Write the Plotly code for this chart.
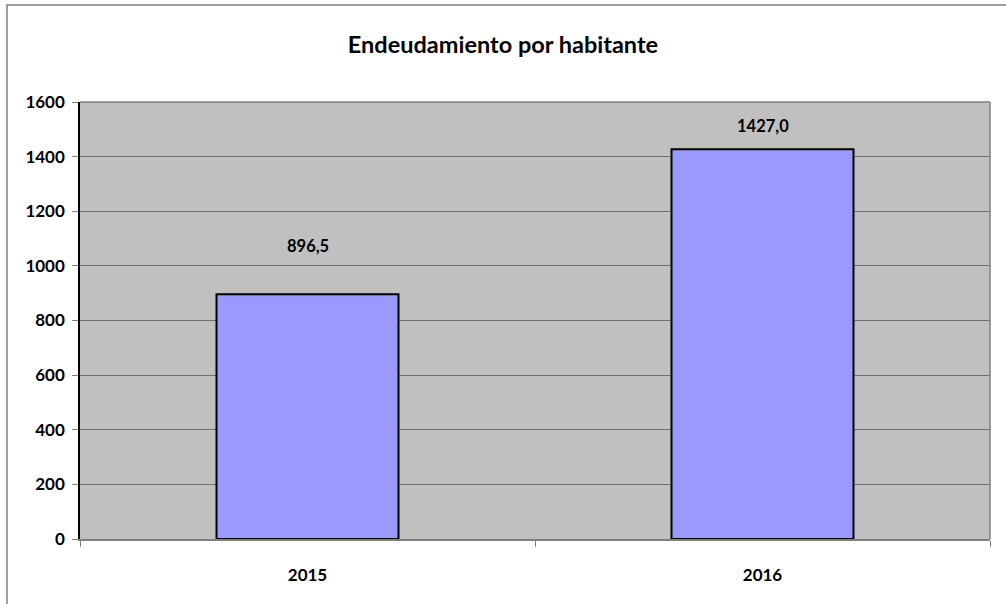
import plotly.graph_objects as go

years = ["2015", "2016"]
values = [896.5, 1427.0]
labels = ["896,5", "1427,0"]
label_shift = [48, 23]
y_ticks = [0, 200, 400, 600, 800, 1000, 1200, 1400, 1600]

FONT = "Lato"

fig = go.Figure()
fig.add_trace(go.Bar(
    x=years, y=values, width=0.4,
    marker=dict(color="#9999FF", line=dict(color="black", width=2)),
    hoverinfo="skip",
))

for i, (v, lab, sh) in enumerate(zip(values, labels, label_shift)):
    fig.add_annotation(x=i, y=v, xref="x", yref="y", text=f"<b>{lab}</b>", showarrow=False,
                       yshift=sh, font=dict(family=FONT, size=16.5, color="black"))

L, R, T, B = 80, 990, 102, 539
W, H = 1006, 604
pw, ph = R - L, B - T

def px(x):
    return (x - L) / pw

def py(y):
    return (B - y) / ph

fig.add_shape(type="rect", xref="paper", yref="paper",
              x0=px(7), x1=px(1030), y0=py(630), y1=py(5),
              line=dict(color="#808080", width=1.5), fillcolor="rgba(0,0,0,0)", layer="below")

fig.update_layout(
    width=W, height=H,
    margin=dict(l=L, r=W - R, t=T, b=H - B, pad=0),
    paper_bgcolor="white", plot_bgcolor="#C0C0C0",
    showlegend=False,
    title=dict(text="<b>Endeudamiento por habitante</b>", x=0.5, xref="container", xanchor="center",
               y=1 - 45 / H, yanchor="middle", yref="container",
               font=dict(family=FONT, size=23.5, color="black")),
    font=dict(family=FONT, color="black"),
)
fig.update_xaxes(
    type="category", range=[-0.5, 1.5], showgrid=False, showline=True, linecolor="#808080", linewidth=1.5,
    ticks="outside", tickson="boundaries", ticklen=6, tickcolor="#808080",
    tickvals=years, ticktext=[f"<b>{y}</b>" for y in years],
    tickfont=dict(family=FONT, size=17, color="black"),
    tickangle=0, ticklabelstandoff=20,
)
fig.update_yaxes(
    range=[0, 1600], tickvals=y_ticks, ticktext=[f"<b>{t}</b>" for t in y_ticks],
    showgrid=True, gridcolor="#707070", gridwidth=1,
    showline=True, linecolor="black", linewidth=1.5,
    ticks="outside", ticklen=6, tickcolor="#808080",
    tickfont=dict(family=FONT, size=17, color="black"),
    zeroline=False, ticklabelstandoff=4,
)
fig.add_shape(type="line", xref="paper", yref="paper", x0=0, x1=1, y0=1, y1=1,
              line=dict(color="#808080", width=1.5))
fig.add_shape(type="line", xref="paper", yref="paper", x0=1, x1=1, y0=0, y1=1,
              line=dict(color="#808080", width=1.5))

fig.write_html("out.html", config={"displayModeBar": False},
               post_script="document.body.style.margin='0';document.body.style.overflow='hidden';")
